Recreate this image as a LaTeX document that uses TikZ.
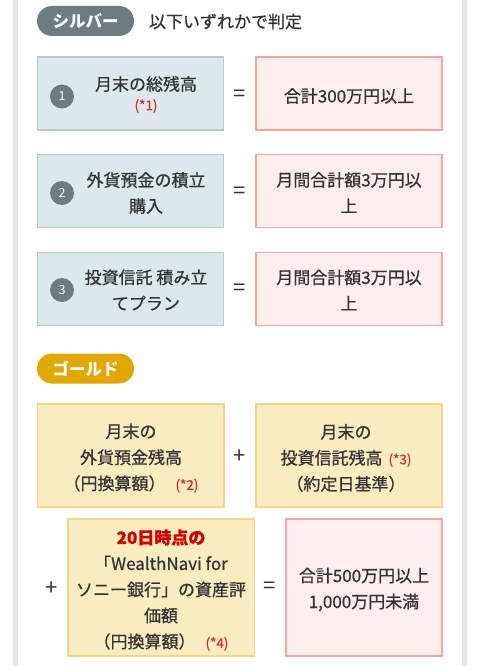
\documentclass[tikz,border=0pt]{standalone}
\usepackage{fontspec}
\setmainfont{Noto Sans CJK JP}
\newfontfamily\medfont{Noto Sans CJK JP}[FakeBold=0.7]
\definecolor{txt}{HTML}{333333}
\definecolor{silver}{HTML}{6E7C82}
\definecolor{bluefill}{HTML}{DDE8EC}
\definecolor{blueline}{HTML}{BCC8CC}
\definecolor{pinkfill}{HTML}{FFEEEE}
\definecolor{pinkline}{HTML}{F5A3A3}
\definecolor{goldpill}{HTML}{E0A800}
\definecolor{goldfill}{HTML}{F8ECC0}
\definecolor{goldline}{HTML}{F0D68A}
\definecolor{noteRed}{HTML}{E02A2A}
\definecolor{strongRed}{HTML}{D10000}
\definecolor{frameGray}{HTML}{E6E6E6}
\newcommand{\note}[1]{{\color{noteRed}\fontsize{13.5}{26}\selectfont #1}}
\begin{document}
\begin{tikzpicture}[x=1pt,y=-1pt,
  every node/.style={inner sep=0pt, outer sep=0pt},
  lbl/.style={text=txt, font=\medfont\fontsize{17}{26}\selectfont, align=center},
  bluebox/.style={draw=blueline, fill=bluefill, line width=1.2pt, minimum width=186pt, minimum height=73pt},
  pinkbox/.style={draw=pinkline, fill=pinkfill, line width=1.2pt, minimum height=73pt},
  goldbox/.style={draw=goldline, fill=goldfill, line width=1.2pt},
  pill/.style={rounded corners=15pt, minimum width=97pt, minimum height=30pt, text=white, font=\fontsize{16.5}{20}\selectfont\bfseries},
  numdot/.style={circle, fill=silver, minimum size=24pt, text=white, font=\fontsize{12.5}{14}\selectfont},
  op/.style={text=txt, font=\fontsize{22}{26}\selectfont}]
\useasboundingbox (0,0) rectangle (480,666);
\fill[white] (0,0) rectangle (480,666);
\draw[frameGray, line width=5pt] (15.5,0) -- (15.5,666);
\draw[frameGray, line width=5pt] (464.5,0) -- (464.5,666);

% Silver section
\node[pill, fill=silver] (sp) at (85.5,21) {シルバー};
\node[lbl, anchor=west] (st) at (149,21.5) {以下いずれかで判定};

\node[bluebox] (b1) at (130.75,93.5) {};
\node[pinkbox, minimum width=186pt] (p1) at (349,93.5) {};
\node[numdot] (n1) at (62,96.5) {1};
\node[lbl] (t1) at (146,84) {月末の総残高};
\node[lbl] (t1n) at (146,106) {\note{(*1)}};
\node[op] (e1) at (240,96) {=};
\node[lbl] (q1) at (349,96) {合計300万円以上};

\node[bluebox] (b2) at (130.75,191) {};
\node[pinkbox, minimum width=186pt] (p2) at (349,191) {};
\node[numdot] (n2) at (62,193) {2};
\node[lbl] (t2) at (146,193) {外貨預金の積立\\購入};
\node[op] (e2) at (240,193) {=};
\node[lbl] (q2) at (349,192.5) {月間合計額3万円以\\上};

\node[bluebox] (b3) at (130.75,289) {};
\node[pinkbox, minimum width=186pt] (p3) at (349,289) {};
\node[numdot] (n3) at (62,290) {3};
\node[lbl] (t3) at (146,290) {投資信託 積み立\\てプラン};
\node[op] (e3) at (240,290) {=};
\node[lbl] (q3) at (349,290) {月間合計額3万円以\\上};

% Gold section
\node[pill, fill=goldpill] (gp) at (85.5,368.5) {ゴールド};

\node[goldbox, minimum width=186.5pt, minimum height=103pt] (g1) at (130.75,455.5) {};
\node[goldbox, minimum width=186pt, minimum height=103pt] (g2) at (349,455.5) {};
\node[lbl] (gt1) at (131,458) {月末の\\外貨預金残高\\（円換算額）\hspace{10pt}\note{(*2)}};
\node[op] (a1) at (240,457) {+};
\node[lbl] (gt2) at (346,458) {月末の\\投資信託残高\hspace{6pt}\note{(*3)}\\（約定日基準）};

\node[op] (a2) at (52,589) {+};
\node[goldbox, minimum width=186.5pt, minimum height=137pt] (g3) at (161.25,587.5) {};
\node[lbl] (gt3) at (161,590) {{\color{strongRed}\bfseries 20日時点の}\\「WealthNavi for\\ソニー銀行」の資産評\\価額\\（円換算額）\hspace{10pt}\note{(*4)}};
\node[op] (e4) at (270,588) {=};
\node[pinkbox, minimum width=156pt, minimum height=137pt] (p4) at (364,587.5) {};
\node[lbl] (q4) at (364,589.5) {合計500万円以上\\1,000万円未満};
\end{tikzpicture}
\end{document}
